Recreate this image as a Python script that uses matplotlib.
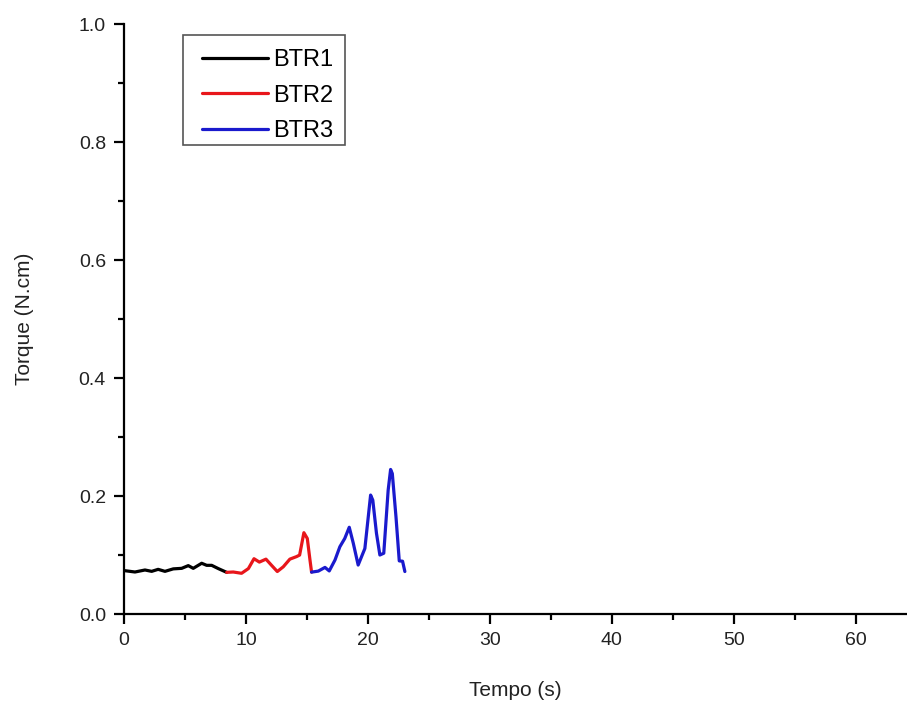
import matplotlib
matplotlib.use("Agg")
import matplotlib.pyplot as plt
from matplotlib.ticker import MultipleLocator
from matplotlib.patches import Rectangle

plt.rcParams['font.family'] = ['Liberation Sans', 'DejaVu Sans']

# BTR1
t1 = [0.08, 0.9, 1.72, 2.27, 2.8, 3.36, 4.04, 4.73, 5.27, 5.68, 6.37, 6.78, 7.19, 7.73, 8.42]
q1 = [0.0734, 0.0712, 0.0746, 0.0723, 0.0757, 0.0723, 0.0765, 0.0774, 0.082, 0.0774, 0.086, 0.0825, 0.0825, 0.077, 0.0706]
# BTR2
t2 = [8.42, 8.96, 9.64, 10.2, 10.66, 11.1, 11.64, 12.1, 12.57, 13.06, 13.6, 14.15, 14.4, 14.75, 15.03, 15.25, 15.38]
q2 = [0.0706, 0.0712, 0.069, 0.077, 0.0937, 0.088, 0.093, 0.0825, 0.072, 0.08, 0.093, 0.0973, 0.0999, 0.1378, 0.128, 0.0915, 0.071]
# BTR3
t3 = [15.38, 15.93, 16.48, 16.83, 17.3, 17.7, 18.1, 18.47, 18.8, 19.2, 19.75, 20.22, 20.4, 20.7, 20.98,
      21.3, 21.66, 21.86, 22.0, 22.3, 22.57, 22.84, 23.03]
q3 = [0.071, 0.0727, 0.079, 0.073, 0.0915, 0.114, 0.128, 0.147, 0.12, 0.083, 0.111, 0.2016, 0.193, 0.137, 0.1,
      0.103, 0.21, 0.245, 0.238, 0.165, 0.09, 0.0895, 0.072]

fig = plt.figure(figsize=(9.07, 7.06), dpi=100)
ax = fig.add_axes([0.1367, 0.1303, 0.8633, 0.8357])

kw = dict(lw=2.3, solid_joinstyle='round', solid_capstyle='round')
ax.plot(t1, q1, color='black', label='BTR1', **kw)
ax.plot(t2, q2, color='#e8161b', label='BTR2', **kw)
ax.plot(t3, q3, color='#1a1acd', label='BTR3', **kw)

ax.set_xlim(0, 64.2)
ax.set_ylim(0, 1.0)
ax.xaxis.set_major_locator(MultipleLocator(10))
ax.xaxis.set_minor_locator(MultipleLocator(5))
ax.yaxis.set_major_locator(MultipleLocator(0.2))
ax.yaxis.set_minor_locator(MultipleLocator(0.1))
ax.yaxis.set_major_formatter(plt.FormatStrFormatter('%.1f'))

for s in ['top', 'right']:
    ax.spines[s].set_visible(False)
for s in ['left', 'bottom']:
    ax.spines[s].set_linewidth(1.6)
ax.tick_params(which='major', direction='out', length=7, width=1.6, labelsize=14, pad=6,
               labelcolor='#222222')
ax.tick_params(which='minor', direction='out', length=4, width=1.6)

ax.set_xlabel('Tempo (s)', fontsize=15, labelpad=23, color='#222222')
ax.set_ylabel('Torque (N.cm)', fontsize=15, labelpad=32, color='#222222')

# legend without its own frame, box drawn separately (wider side padding)
leg = ax.legend(loc='upper left', bbox_to_anchor=(0.0996, 0.957), borderaxespad=0, borderpad=0,
                fontsize=17, frameon=False, handlelength=2.8,
                handletextpad=0.2, labelspacing=0.56)
ax.add_patch(Rectangle((0.0754, 0.795), 0.207, 0.186, transform=ax.transAxes,
                       fill=False, edgecolor='#555555', lw=1.2, clip_on=False))

fig.savefig('out.png', dpi=100)
